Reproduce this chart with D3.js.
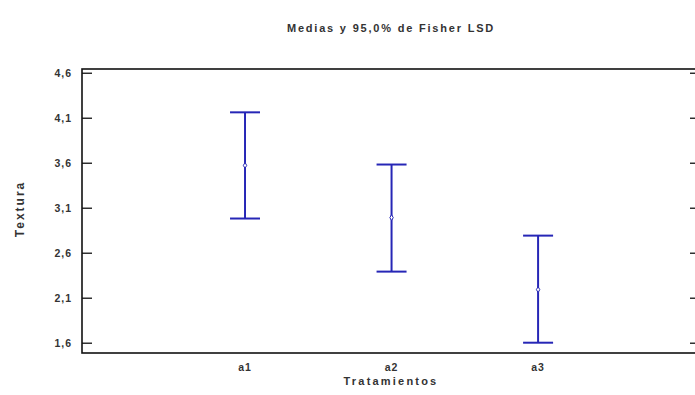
<!DOCTYPE html>
<html>
<head>
<meta charset="utf-8">
<script src="https://cdn.jsdelivr.net/npm/d3@7"></script>
<style>
  html, body { margin: 0; padding: 0; background: #fff; }
  svg { display: block; }
  text { font-family: "Liberation Sans", Arial, sans-serif; fill: #333; font-weight: bold; }
</style>
</head>
<body>
<svg id="chart" width="695" height="395"></svg>
<script>
const categories = ["a1", "a2", "a3"];
const means = [3.57, 2.99, 2.19];
const lowerLimits = [2.98, 2.39, 1.60];
const upperLimits = [4.16, 3.58, 2.79];
const yTickValues = [1.6, 2.1, 2.6, 3.1, 3.6, 4.1, 4.6];
const yTickLabels = ["1,6", "2,1", "2,6", "3,1", "3,6", "4,1", "4,6"];
const titleText = "Medias y 95,0% de Fisher LSD";
const xTitle = "Tratamientos";
const yTitle = "Textura";

const svg = d3.select("#chart");
const plotLeft = 82, plotRight = 700, plotTop = 69, plotBottom = 353;

const y = d3.scaleLinear().domain([1.4856, 4.6415]).range([plotBottom, plotTop]);
const x = d3.scaleLinear().domain([-0.1126, 4.105]).range([plotLeft, plotRight]);

// box
svg.append("rect")
  .attr("x", plotLeft).attr("y", plotTop)
  .attr("width", plotRight - plotLeft).attr("height", plotBottom - plotTop)
  .attr("fill", "none").attr("stroke", "#111").attr("stroke-width", 1.6);

// left axis
const yAxisL = d3.axisLeft(y).tickValues(yTickValues)
  .tickFormat((d, i) => yTickLabels[i]).tickSize(-10).tickPadding(10);
const gL = svg.append("g").attr("transform", `translate(${plotLeft},0)`).call(yAxisL);
gL.select(".domain").remove();
gL.selectAll(".tick line").attr("stroke", "#111").attr("stroke-width", 1.3);
gL.selectAll(".tick text").style("font-size", "10.5px").style("letter-spacing", "1px")
  .style("font-family", "'Liberation Sans', Arial, sans-serif").attr("fill", "#333").style("font-weight", "bold");

// right axis
const yAxisR = d3.axisRight(y).tickValues(yTickValues).tickFormat("").tickSize(-10);
const gR = svg.append("g").attr("transform", `translate(${plotRight},0)`).call(yAxisR);
gR.select(".domain").remove();
gR.selectAll(".tick line").attr("stroke", "#111").attr("stroke-width", 1.3);

// x tick labels
svg.append("g").selectAll("text").data(categories).join("text")
  .attr("x", (d, i) => x(i + 1)).attr("y", 371)
  .attr("text-anchor", "middle").style("font-size", "10.5px").style("letter-spacing", "1px")
  .text(d => d);

// error bars
const color = "#2626b6";
const capHalf = 15;
const g = svg.append("g");
categories.forEach((c, i) => {
  const cx = x(i + 1);
  g.append("line").attr("x1", cx).attr("x2", cx)
    .attr("y1", y(upperLimits[i])).attr("y2", y(lowerLimits[i]))
    .attr("stroke", color).attr("stroke-width", 2);
  [upperLimits[i], lowerLimits[i]].forEach(v => {
    g.append("line").attr("x1", cx - capHalf).attr("x2", cx + capHalf)
      .attr("y1", y(v)).attr("y2", y(v))
      .attr("stroke", color).attr("stroke-width", 2);
  });
  g.append("path")
    .attr("d", d3.symbol().type(d3.symbolDiamond).size(10)())
    .attr("transform", `translate(${cx},${y(means[i])})`)
    .attr("fill", "#fff").attr("stroke", color).attr("stroke-width", 1);
});

// titles
svg.append("text").attr("x", 391).attr("y", 32).attr("text-anchor", "middle")
  .style("font-size", "11px").style("letter-spacing", "1.8px").text(titleText);
svg.append("text").attr("x", 391).attr("y", 385).attr("text-anchor", "middle")
  .style("font-size", "11px").style("letter-spacing", "2.2px").text(xTitle);
svg.append("text").attr("transform", "translate(24,209) rotate(-90)").attr("text-anchor", "middle")
  .style("font-size", "12px").style("letter-spacing", "2px").text(yTitle);
</script>
</body>
</html>
